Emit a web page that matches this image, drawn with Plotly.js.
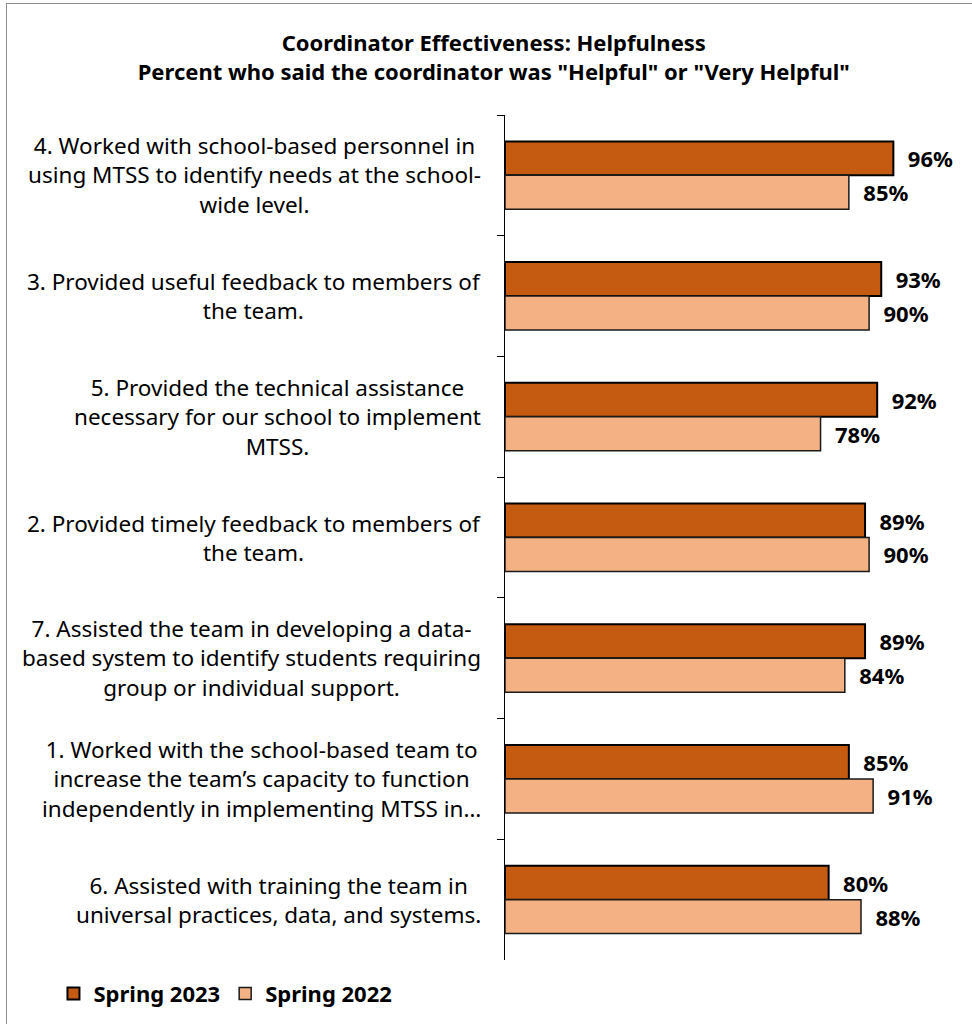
<!DOCTYPE html>
<html>
<head>
<meta charset="utf-8">
<script src="https://cdn.plot.ly/plotly-3.0.1.min.js"></script>
<style>
html,body{margin:0;padding:0;background:#fff;}
#wrap{position:relative;width:972px;height:1024px;overflow:hidden;}
#frame{position:absolute;left:6px;top:3px;width:1000px;height:1100px;border:1px solid #8c8c8c;pointer-events:none;}
#chart{position:absolute;left:0;top:0;width:972px;height:1024px;}
</style>
</head>
<body>
<div id="wrap"><div id="chart"></div><div id="frame"></div></div>
<script>
const categories = [
  "4. Worked with school-based personnel in<br>using MTSS to identify needs at the school-<br>wide level.",
  "3. Provided useful feedback to members of<br>the team.",
  "5. Provided the technical assistance<br>necessary for our school to implement<br>MTSS.",
  "2. Provided timely feedback to members of<br>the team.",
  "7. Assisted the team in developing a data-<br>based system to identify students requiring<br>group or individual support.",
  "1. Worked with the school-based team to<br>increase the team\u2019s capacity to function<br>independently in implementing MTSS in\u2026",
  "6. Assisted with training the team in<br>universal practices, data, and systems."
];
const spring2023 = [96, 93, 92, 89, 89, 85, 80];
const spring2022 = [85, 90, 78, 90, 84, 91, 88];
const seriesNames = ["Spring 2023", "Spring 2022"];

const FONT = "'Noto Sans', 'Open Sans', sans-serif";

const common = {
  type: 'bar', orientation: 'h', y: categories,
  textposition: 'outside', texttemplate: '\u00a0\u00a0%{x}%',
  textfont: {family: FONT, size: 22, color: '#000', weight: 'bold'},
  constraintext: 'none', cliponaxis: false, hoverinfo: 'skip'
};

const traces = [
  Object.assign({}, common, {
    name: seriesNames[0], x: spring2023,
    marker: {color: '#C55A11', line: {color: '#000', width: 2}}
  }),
  Object.assign({}, common, {
    name: seriesNames[1], x: spring2022,
    marker: {color: '#F4B183', line: {color: '#1a1a1a', width: 1.5}}
  })
];

const annotations = categories.map(c => ({
  xref: 'paper', yref: 'y', x: 0, y: c, xanchor: 'right', yanchor: 'middle',
  xshift: -22, text: c, align: 'center', showarrow: false,
  font: {family: FONT, size: 22.5, color: '#000'}
}));

const layout = {
  width: 972, height: 1024,
  margin: {l: 505, r: 22, t: 115, b: 64},
  paper_bgcolor: 'rgba(0,0,0,0)', plot_bgcolor: 'rgba(0,0,0,0)',
  font: {family: FONT, size: 22, color: '#000'},
  title: {
    text: '<b>Coordinator Effectiveness: Helpfulness<br>Percent who said the coordinator was "Helpful" or "Very Helpful"</b>',
    font: {family: FONT, size: 22, color: '#000'},
    x: 0.508, xanchor: 'center', y: 0.95, yanchor: 'middle', yref: 'container'
  },
  barmode: 'group', bargap: 0.437, bargroupgap: 0,
  xaxis: {range: [0, 110], visible: false, fixedrange: true},
  yaxis: {
    type: 'category', autorange: 'reversed', showticklabels: false,
    showline: true, linecolor: '#000', linewidth: 1,
    ticks: 'outside', ticklen: 7, tickcolor: '#000', tickwidth: 1,
    tickson: 'boundaries', showgrid: false, zeroline: false, fixedrange: true
  },
  showlegend: true,
  legend: {
    orientation: 'h', xref: 'container', yref: 'container',
    x: 0.055, xanchor: 'left', y: 0.05, yanchor: 'top',
    font: {family: FONT, size: 22, color: '#000', weight: 'bold'},
    itemwidth: 30, traceorder: 'normal', bgcolor: 'rgba(0,0,0,0)'
  },
  annotations: annotations
};

Plotly.newPlot('chart', traces, layout, {displayModeBar: false, staticPlot: true});
</script>
</body>
</html>
